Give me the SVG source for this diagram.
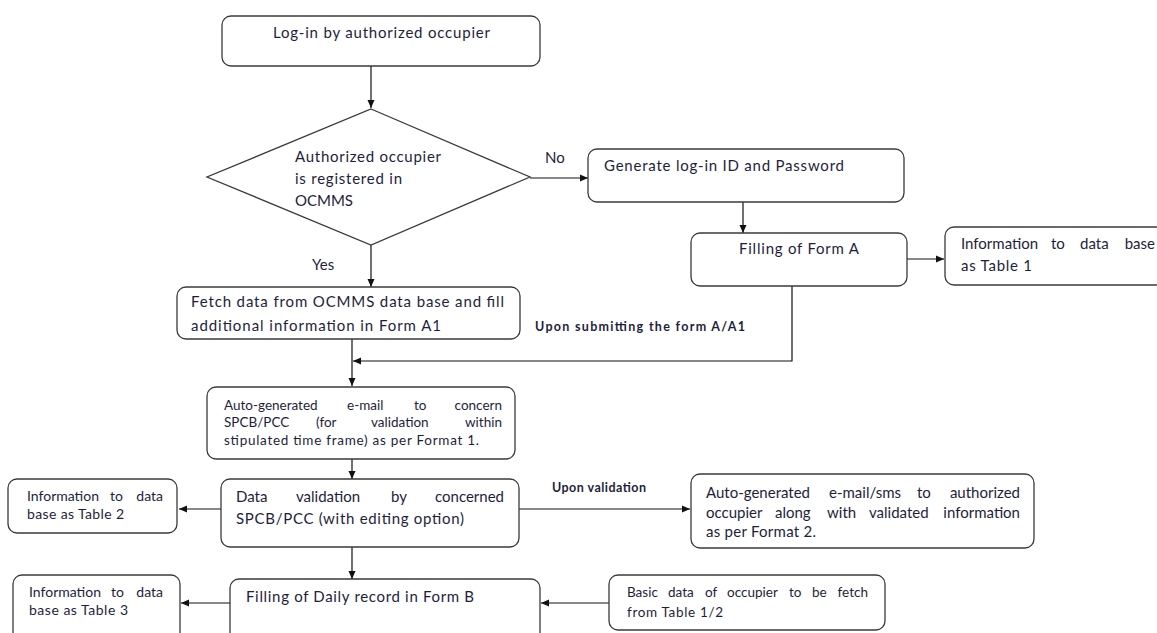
<svg xmlns="http://www.w3.org/2000/svg" width="1157" height="633" viewBox="0 0 1157 633">
<style>
.box{fill:#fff;stroke:#3a3a3a;stroke-width:1.3}
.t{font-family:Lato,"Liberation Sans",sans-serif;font-size:15px;fill:#1e1e3c}
.s{font-size:13.5px}
.m{font-size:14px}
.b{font-weight:bold;font-size:12.5px}
.e{text-anchor:end}
.c{stroke:#111;stroke-width:1.2;fill:none;marker-end:url(#ah)}
</style>
<defs>
<marker id="ah" markerUnits="userSpaceOnUse" markerWidth="9" markerHeight="8" refX="8" refY="4" orient="auto">
<path d="M0,0.5 L8,4 L0,7.5 z" fill="#111"/>
</marker>
</defs>
<rect width="1157" height="633" fill="#fff"/>
<g id="connectors">
<path class="c" d="M371,66 V108"/>
<path class="c" d="M530,178 H588"/>
<path class="c" d="M743,202 V233"/>
<path class="c" d="M907,259 H944"/>
<path class="c" d="M371,245 V287"/>
<path class="c" d="M792,286 V361 H353"/>
<path class="c" d="M352,339 V386"/>
<path class="c" d="M352,459 V479"/>
<path class="c" d="M221,509 H179"/>
<path class="c" d="M519,509 H690"/>
<path class="c" d="M352,547 V579"/>
<path class="c" d="M230,603 H181"/>
<path class="c" d="M609,603 H541"/>
<text class="t" x="545" y="163">No</text>
<text class="t" x="312" y="270">Yes</text>
<text class="t b" x="535" y="331" textLength="210">Upon submitting the form A/A1</text>
<text class="t b" x="552" y="492" textLength="94">Upon validation</text>
</g>
<g id="login">
<rect class="box" x="222" y="16" width="318" height="50" rx="9"/>
<text class="t" x="273" y="38" textLength="217">Log-in by authorized occupier</text>
</g>
<g id="decision">
<polygon class="box" points="371,109 530,177 371,245 207,177"/>
<text class="t" x="295" y="162" textLength="146">Authorized occupier</text>
<text class="t" x="295" y="184" textLength="107">is registered in</text>
<text class="t" x="295" y="206" textLength="58">OCMMS</text>
</g>
<g id="generate">
<rect class="box" x="588" y="149" width="316" height="53" rx="9"/>
<text class="t" x="604" y="171" textLength="240">Generate log-in ID and Password</text>
</g>
<g id="formA">
<rect class="box" x="691" y="233" width="216" height="53" rx="9"/>
<text class="t" x="739" y="254" textLength="120">Filling of Form A</text>
</g>
<g id="table1">
<rect class="box" x="945" y="227" width="220" height="58" rx="9"/>
<text class="t"><tspan x="961" y="249">Information</tspan><tspan x="1051" y="249">to</tspan><tspan x="1080" y="249">data</tspan></text>
<text class="t e" x="1155" y="249">base</text>
<text class="t" x="961" y="271" textLength="71">as Table 1</text>
</g>
<g id="fetch">
<rect class="box" x="177" y="287" width="343" height="52" rx="9"/>
<text class="t" x="191" y="307" textLength="313">Fetch data from OCMMS data base and fill</text>
<text class="t" x="191" y="331" textLength="250">additional information in Form A1</text>
</g>
<g id="email1">
<rect class="box" x="207" y="387" width="308" height="72" rx="9"/>
<text class="t s"><tspan x="224" y="410">Auto-generated</tspan><tspan x="347" y="410">e-mail</tspan><tspan x="414" y="410">to</tspan></text>
<text class="t s e" x="502" y="410">concern</text>
<text class="t s"><tspan x="224" y="427">SPCB/PCC</tspan><tspan x="316" y="427">(for</tspan><tspan x="371" y="427">validation</tspan></text>
<text class="t s e" x="502" y="427">within</text>
<text class="t s" x="224" y="445" textLength="255">stipulated time frame) as per Format 1.</text>
</g>
<g id="validation">
<rect class="box" x="221" y="479" width="298" height="68" rx="9"/>
<text class="t"><tspan x="236" y="502">Data</tspan><tspan x="296" y="502">validation</tspan><tspan x="391" y="502">by</tspan></text>
<text class="t e" x="504" y="502">concerned</text>
<text class="t" x="236" y="524" textLength="228">SPCB/PCC (with editing option)</text>
</g>
<g id="table2">
<rect class="box" x="8" y="479" width="169" height="54" rx="9"/>
<text class="t m"><tspan x="27" y="501">Information</tspan><tspan x="110" y="501">to</tspan></text>
<text class="t m e" x="163" y="501">data</text>
<text class="t m" x="27" y="519" textLength="97">base as Table 2</text>
</g>
<g id="email2">
<rect class="box" x="691" y="474" width="343" height="74" rx="9"/>
<text class="t"><tspan x="706" y="498">Auto-generated</tspan><tspan x="829" y="498">e-mail/sms</tspan><tspan x="917" y="498">to</tspan></text>
<text class="t e" x="1020" y="498">authorized</text>
<text class="t"><tspan x="706" y="518">occupier</tspan><tspan x="775" y="518">along</tspan><tspan x="827" y="518">with</tspan><tspan x="869" y="518">validated</tspan></text>
<text class="t e" x="1020" y="518">information</text>
<text class="t" x="706" y="537" textLength="110">as per Format 2.</text>
</g>
<g id="formB">
<rect class="box" x="230" y="579" width="310" height="62" rx="9"/>
<text class="t" x="246" y="602" textLength="228">Filling of Daily record in Form B</text>
</g>
<g id="table3">
<rect class="box" x="13" y="575" width="167" height="66" rx="9"/>
<text class="t m"><tspan x="29" y="597">Information</tspan><tspan x="111" y="597">to</tspan></text>
<text class="t m e" x="163" y="597">data</text>
<text class="t m" x="29" y="615" textLength="99">base as Table 3</text>
</g>
<g id="basic">
<rect class="box" x="609" y="575" width="276" height="55" rx="9"/>
<text class="t s"><tspan x="627" y="597">Basic</tspan><tspan x="668" y="597">data</tspan><tspan x="705" y="597">of</tspan><tspan x="727" y="597">occupier</tspan><tspan x="789" y="597">to</tspan><tspan x="812" y="597">be</tspan></text>
<text class="t s e" x="868" y="597">fetch</text>
<text class="t s" x="627" y="617" textLength="96">from Table 1/2</text>
</g>
</svg>
